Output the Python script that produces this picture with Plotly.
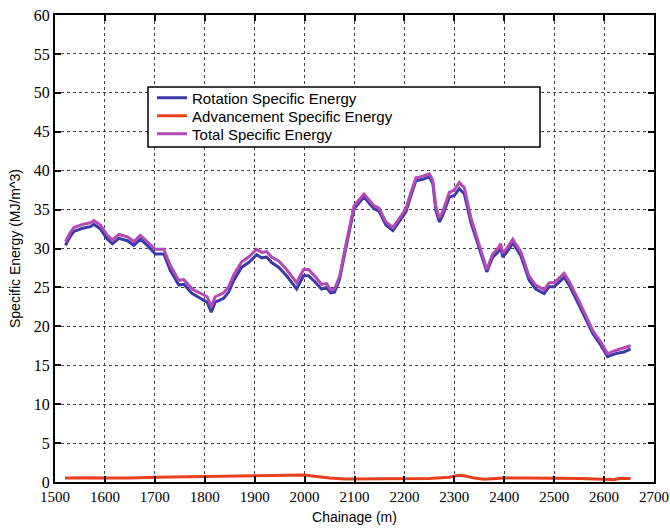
import plotly.graph_objects as go

chainage = [1521, 1530, 1538, 1555, 1571, 1578, 1591, 1605, 1615, 1628, 1645, 1658, 1671, 1685,
            1701, 1718, 1731, 1748, 1758, 1775, 1791, 1805, 1813, 1821, 1838, 1848, 1858, 1874,
            1888, 1904, 1914, 1924, 1934, 1948, 1964, 1984, 1998, 2008, 2021, 2034, 2044, 2052,
            2060, 2070, 2079, 2089, 2099, 2119, 2139, 2149, 2163, 2177, 2187, 2203, 2213, 2223,
            2237, 2250, 2257, 2263, 2270, 2277, 2290, 2300, 2310, 2320, 2333, 2350, 2365, 2377,
            2387, 2393, 2397, 2407, 2417, 2433, 2450, 2463, 2480, 2490, 2500, 2520, 2530, 2550,
            2577, 2593, 2607, 2623, 2640, 2653]

rotation = [30.4, 31.5, 32.2, 32.6, 32.8, 33.1, 32.5, 31.2, 30.6, 31.3, 31.0, 30.4, 31.2, 30.4,
            29.3, 29.3, 27.2, 25.3, 25.4, 24.2, 23.6, 23.1, 21.8, 23.1, 23.6, 24.4, 25.9, 27.6,
            28.2, 29.2, 28.8, 28.9, 28.2, 27.6, 26.5, 24.8, 26.5, 26.5, 25.7, 24.8, 25.0, 24.3,
            24.4, 26.0, 28.9, 31.9, 35.1, 36.6, 35.1, 34.8, 33.0, 32.3, 33.2, 34.7, 36.8, 38.7,
            38.9, 39.2, 38.3, 34.9, 33.4, 34.3, 36.6, 36.8, 37.7, 37.0, 33.4, 30.0, 27.0, 28.9,
            29.5, 30.1, 28.9, 29.7, 30.7, 29.1, 25.9, 24.8, 24.2, 25.1, 25.1, 26.3, 25.3, 22.7,
            19.1, 17.6, 16.1, 16.5, 16.7, 17.1]

total = [30.9, 32.0, 32.7, 33.1, 33.3, 33.6, 33.0, 31.7, 31.1, 31.8, 31.5, 30.9, 31.7, 30.9,
         29.9, 29.9, 27.8, 25.9, 26.0, 24.8, 24.3, 23.8, 22.5, 23.8, 24.3, 25.1, 26.6, 28.3,
         28.9, 29.9, 29.5, 29.6, 28.9, 28.4, 27.3, 25.6, 27.3, 27.3, 26.4, 25.4, 25.5, 24.7,
         24.8, 26.4, 29.3, 32.3, 35.5, 37.0, 35.5, 35.2, 33.4, 32.7, 33.6, 35.1, 37.2, 39.1,
         39.3, 39.6, 38.7, 35.4, 33.9, 34.8, 37.2, 37.5, 38.5, 37.8, 34.0, 30.4, 27.3, 29.3,
         30.0, 30.6, 29.4, 30.2, 31.2, 29.6, 26.4, 25.3, 24.7, 25.6, 25.6, 26.8, 25.8, 23.2,
         19.5, 18.0, 16.5, 16.9, 17.2, 17.5]

adv_chainage = [1520, 1560, 1600, 1650, 1700, 1750, 1800, 1850, 1900, 1950, 1990, 2000, 2020,
                2050, 2080, 2100, 2150, 2200, 2250, 2290, 2310, 2320, 2340, 2360, 2380, 2400,
                2450, 2500, 2550, 2600, 2620, 2630, 2653]
advancement = [0.5, 0.55, 0.5, 0.5, 0.6, 0.65, 0.7, 0.75, 0.75, 0.8, 0.85, 0.9, 0.75,
               0.5, 0.4, 0.4, 0.4, 0.45, 0.45, 0.6, 0.85, 0.8, 0.5, 0.35, 0.4, 0.5,
               0.5, 0.5, 0.45, 0.35, 0.3, 0.45, 0.45]

x_ticks = list(range(1500, 2701, 100))
y_ticks = list(range(0, 61, 5))

fig = go.Figure()
fig.add_trace(go.Scatter(x=chainage, y=rotation, mode="lines", name="Rotation Specific Energy",
                         line=dict(color="#3b3aa8", width=3), legend="legend"))
fig.add_trace(go.Scatter(x=adv_chainage, y=advancement, mode="lines", name="Advancement Specific Energy",
                         line=dict(color="#e8401e", width=3), legend="legend2"))
fig.add_trace(go.Scatter(x=chainage, y=total, mode="lines", name="Total Specific Energy",
                         line=dict(color="#b34ab5", width=3), legend="legend3"))

serif = "Liberation Serif, Times New Roman, serif"
sans = "Liberation Sans, Arial, sans-serif"

axis_common = dict(showline=True, linecolor="black", linewidth=2, mirror="ticks",
                   ticks="inside", ticklen=6, tickwidth=2, tickcolor="black",
                   showgrid=True, gridcolor="#444444", griddash="dot", gridwidth=1,
                   zeroline=False, automargin=False, ticklabeloverflow="allow")

fig.update_xaxes(range=[1500, 2700], tickvals=x_ticks, ticklabelstandoff=0,
                 tickfont=dict(family=serif, size=15, color="black"),
                 title=dict(text="Chainage (m)", font=dict(family=sans, size=14, color="black"),
                            standoff=8),
                 **axis_common)
fig.update_yaxes(range=[0, 60], tickvals=y_ticks, ticklabelstandoff=0,
                 tickfont=dict(family=serif, size=16, color="black"),
                 title=dict(text="Specific Energy (MJ/m^3)", font=dict(family=sans, size=14, color="black"),
                            standoff=10),
                 **axis_common)

fig.add_shape(type="rect", xref="paper", yref="paper", x0=0.1553, x1=0.8097, y0=0.7173, y1=0.8458,
              line=dict(color="black", width=1.5), fillcolor="white", layer="above")

leg_common = dict(x=0.162, xanchor="left", yanchor="middle",
                  bgcolor="rgba(0,0,0,0)", borderwidth=0,
                  font=dict(family=sans, size=15, color="black"),
                  itemwidth=30)

fig.update_layout(
    width=670, height=529,
    margin=dict(l=55, r=16, t=15, b=47),
    paper_bgcolor="white", plot_bgcolor="white",
    showlegend=True,
    legend=dict(y=0.8223, **leg_common),
    legend2=dict(y=0.7837, **leg_common),
    legend3=dict(y=0.7452, **leg_common),
)

fig.write_html("out.html", config={"displayModeBar": False},
               post_script="document.body.style.margin='0';")
